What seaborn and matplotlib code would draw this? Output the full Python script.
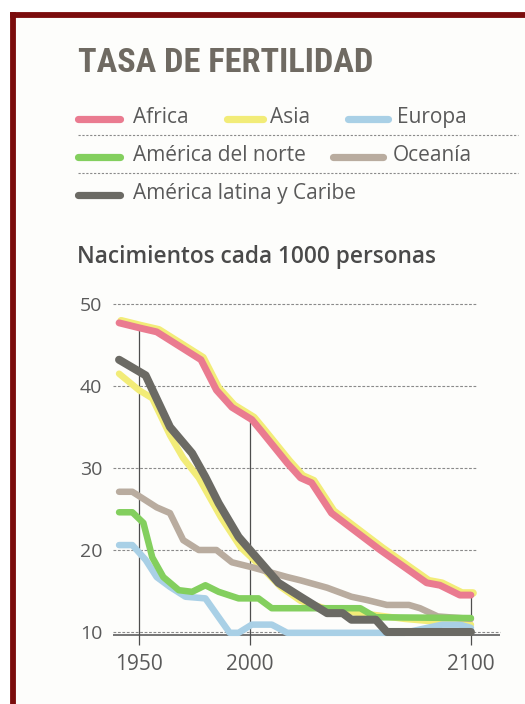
#fertility chart redrawn from a newspaper scan
#births per 1000 people by region, 1950-2100
#values were read by eye from the printed lines

import numpy as np
import pandas as pd
import seaborn as sns
import matplotlib.pyplot as plt
import matplotlib.patheffects as pe
from matplotlib.lines import Line2D
from matplotlib.patches import Rectangle
from matplotlib import font_manager

africa_years = [1941, 1950, 1958, 1978, 1985, 1992, 2001, 2005, 2017, 2023, 2028, 2037, 2059, 2080, 2086, 2095, 2100]
africa_vals = [47.7, 47.1, 46.6, 43.2, 39.5, 37.4, 35.9, 34.6, 30.6, 28.8, 28.2, 24.5, 20.0, 16.0, 15.7, 14.5, 14.5]

asia_years = [1941, 1950, 1956, 1964, 1970, 1977, 1987, 1996, 2005, 2014, 2023, 2035, 2050, 2070, 2100]
asia_vals = [41.5, 39.5, 38.5, 34.0, 31.2, 28.8, 24.0, 20.3, 18.0, 15.5, 13.8, 12.8, 12.3, 11.6, 10.9]

europa_years = [1941, 1947, 1953, 1958, 1964, 1971, 1980, 1986, 1991, 1995, 2001, 2010, 2017, 2041, 2070, 2087, 2095, 2100]
europa_vals = [20.6, 20.6, 18.8, 16.7, 15.5, 14.3, 14.1, 11.8, 9.9, 9.9, 10.9, 10.9, 9.9, 9.9, 9.9, 10.9, 10.9, 10.5]

norte_years = [1941, 1947, 1952, 1956, 1961, 1968, 1974, 1980, 1986, 1995, 2004, 2010, 2035, 2050, 2057, 2100]
norte_vals = [24.6, 24.6, 23.3, 19.1, 16.7, 15.1, 14.9, 15.7, 14.9, 14.1, 14.1, 12.9, 12.9, 12.9, 11.8, 11.7]

oceania_years = [1941, 1947, 1958, 1964, 1970, 1977, 1985, 1992, 2001, 2017, 2023, 2035, 2046, 2053, 2062, 2072, 2077, 2085, 2100]
oceania_vals = [27.1, 27.1, 25.2, 24.5, 21.2, 20.0, 20.0, 18.5, 17.9, 16.7, 16.3, 15.4, 14.3, 13.9, 13.3, 13.3, 12.9, 11.9, 11.6]

latina_years = [1941, 1953, 1964, 1974, 1980, 1986, 1995, 2004, 2013, 2023, 2035, 2042, 2046, 2057, 2062, 2100]
latina_vals = [43.2, 41.3, 35.0, 31.8, 28.9, 25.7, 21.6, 18.8, 16.0, 14.3, 12.3, 12.3, 11.5, 11.5, 10.0, 10.0]

regions = ['Africa', 'Asia', 'Europa', 'América del norte', 'Oceanía', 'América latina y Caribe']
colors = ['#ea7b90', '#f2ec78', '#a9d0e6', '#83cf5e', '#b9ac9f', '#6b6a64']
palette = dict(zip(regions, colors))

series = {
    'Africa': (africa_years, africa_vals),
    'Asia': (asia_years, asia_vals),
    'Europa': (europa_years, europa_vals),
    'América del norte': (norte_years, norte_vals),
    'Oceanía': (oceania_years, oceania_vals),
    'América latina y Caribe': (latina_years, latina_vals),
}
rows = []
for name, (yrs, vals) in series.items():
    for y, v in zip(yrs, vals):
        rows.append({'region': name, 'year': y, 'rate': v})
df = pd.DataFrame(rows)

sns.set_style('white')
plt.rcParams['font.family'] = ['Open Sans', 'DejaVu Sans']

#narrow bold face for the header if one is around
installed = {f.name for f in font_manager.fontManager.ttflist}
title_family = 'Roboto'
for cand in ['Roboto Condensed', 'Liberation Sans Narrow', 'DejaVu Sans Condensed']:
    if cand in installed:
        title_family = cand
        break

fig = plt.figure(figsize=(5.25, 7.04), dpi=100)
fig.patch.set_facecolor('white')

#paper and the dark red frame of the clipping
fig.add_artist(Rectangle((13/525, 0), 1, 1 - 14.5/704, transform=fig.transFigure,
                         facecolor='#fdfdfb', edgecolor='none', zorder=0))
fig.add_artist(Line2D([13/525, 13/525], [0, 1 - 14.5/704], color='#7b0c0c', lw=4.2,
                      solid_capstyle='projecting', transform=fig.transFigure))
fig.add_artist(Line2D([13/525, 1], [1 - 14.5/704, 1 - 14.5/704], color='#7b0c0c', lw=4.2,
                      solid_capstyle='projecting', transform=fig.transFigure))

ax = fig.add_axes([110/525, (704-652.5)/704, 395/525, 356.7/704])
ax.set_facecolor('none')

draw_order = ['Asia', 'Europa', 'Oceanía', 'América del norte', 'Africa', 'América latina y Caribe']
widths = {'América latina y Caribe': 5.8, 'Africa': 5.0}
for name in draw_order:
    sub = df[df.region == name]
    sns.lineplot(data=sub, x='year', y='rate', color=palette[name], lw=widths.get(name, 4.7),
                 estimator=None, sort=False, legend=False, ax=ax, zorder=3)
    line = ax.lines[-1]
    line.set_solid_capstyle('round')
    line.set_solid_joinstyle('round')
    if name == 'Africa':
        #the print shows a yellow halo on the africa line
        line.set_path_effects([pe.SimpleLineShadow(offset=(1.5, 1.5), shadow_color='#f2ec78', alpha=1, linewidth=5.5),
                               pe.Normal()])

#grid, base line and the little vertical markers
ax.hlines([20, 30, 40, 50], 1938.3, 2102.7, colors='#8a8a8a', lw=0.8, ls=(0, (2.5, 1.5)), zorder=1)
ax.hlines(10.0, 1938.3, 2113, colors='#8a8a8a', lw=0.8, ls=(0, (2.5, 1.5)), zorder=1)
ax.hlines(9.6, 1938.3, 2113, colors='#5e5e5e', lw=1.2, zorder=1)
for yr in [1950, 2000, 2100]:
    top = np.interp(yr, africa_years, africa_vals)
    ax.vlines(yr, 8.4, top, colors='#4e4e4e', lw=0.9, zorder=2)

ax.set_xlim(1936.9, 2115.4)
ax.set_ylim(7.5, 51)
ax.set_xticks([1950, 2000, 2100])
ax.set_yticks([10, 20, 30, 40, 50])
ax.tick_params(axis='both', length=0, labelcolor='#5a5a5a')
ax.tick_params(axis='x', labelsize=15, pad=1)
ax.tick_params(axis='y', labelsize=14, pad=5.5)
ax.set_xlabel('')
ax.set_ylabel('')
sns.despine(ax=ax, left=True, bottom=True)

#header, sized to the printed width (about 297 px)
title = fig.text(78/525, 1 - 72/704, 'TASA DE FERTILIDAD', family=title_family,
                 weight='bold', fontsize=23, color='#6f6a62', va='baseline')
fig.canvas.draw()
tw = title.get_window_extent().width
title.set_fontsize(min(23 * 297 / tw, 27))
fig.text(77/525, 1 - 263/704, 'Nacimientos cada 1000 personas', fontsize=16.3, weight='semibold',
         color='#4a4a4a', va='baseline')

#hand laid legend, three rows like the print
legend_rows = [
    [('Africa', 78, 120, 133), ('Asia', 227, 263, 270), ('Europa', 348, 388, 397)],
    [('América del norte', 78, 120, 133), ('Oceanía', 333, 383, 393)],
    [('América latina y Caribe', 78, 120, 133)],
]
row_y = [119, 157, 195]
for items, yc in zip(legend_rows, row_y):
    for name, x0, x1, xt in items:
        fig.add_artist(Line2D([x0/525, x1/525], [1 - yc/704, 1 - yc/704], color=palette[name],
                              lw=5.2, solid_capstyle='round', transform=fig.transFigure))
        fig.text(xt/525, 1 - (yc + 4)/704, name, fontsize=15, color='#5a5a5a', va='baseline')
for ys in [135, 173]:
    fig.add_artist(Line2D([78/525, 518/525], [1 - ys/704, 1 - ys/704], color='#8a8a8a', lw=0.8,
                          ls=(0, (2, 1.5)), transform=fig.transFigure))

plt.savefig('out.png', dpi=100)
